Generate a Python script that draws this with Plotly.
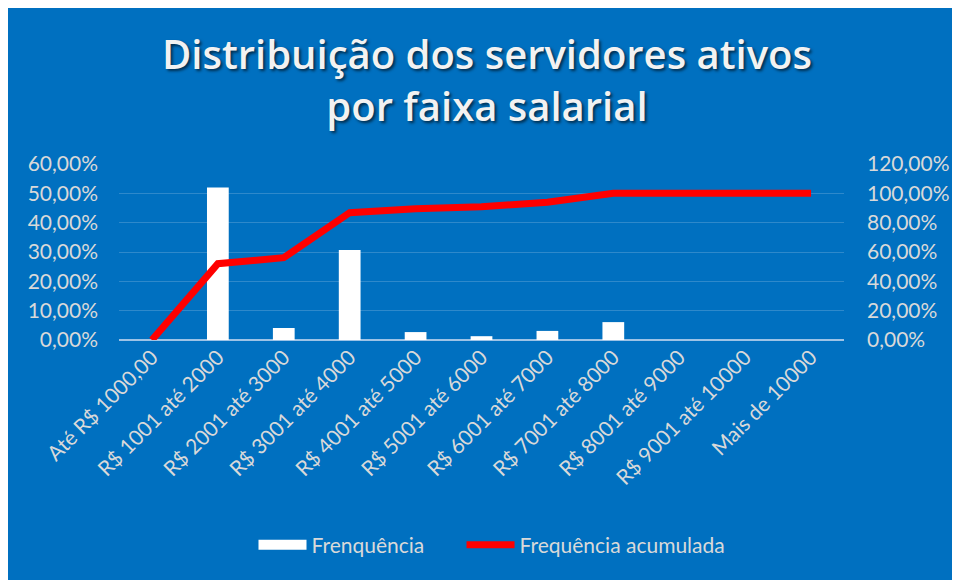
import plotly.graph_objects as go

categorias = ["Até R$ 1000,00", "R$ 1001 até 2000", "R$ 2001 até 3000", "R$ 3001 até 4000",
              "R$ 4001 até 5000", "R$ 5001 até 6000", "R$ 6001 até 7000", "R$ 7001 até 8000",
              "R$ 8001 até 9000", "R$ 9001 até 10000", "Mais de 10000"]
frequencia = [0.0, 0.520, 0.041, 0.307, 0.027, 0.013, 0.031, 0.061, 0.0, 0.0, 0.0]
acumulada = [0.0, 0.520, 0.561, 0.868, 0.895, 0.908, 0.939, 1.0, 1.0, 1.0, 1.0]

BLUE = "#0070C0"
TXT = "#D9D9D9"
FONT = "Lato"
FS = 21

# page body adds an 8px offset; figure is sized to fill the rest of the window
W, H, OFF = 952, 572, 8


def fx(px):
    return (px - OFF) / W


def fy(py):
    return 1 - (py - OFF) / H


fig = go.Figure()
fig.add_trace(go.Bar(x=categorias, y=frequencia, name="Frenquência",
                     marker=dict(color="white", line=dict(width=0)), width=0.33,
                     yaxis="y", showlegend=False))
# legend swatch for the bars (wide white rectangle like the original)
fig.add_trace(go.Scatter(x=[None], y=[None], name="Frenquência" + "\u00a0" * 6, mode="lines",
                         line=dict(color="white", width=13), yaxis="y"))
fig.add_trace(go.Scatter(x=categorias, y=acumulada, name="Frequência acumulada",
                         mode="lines", line=dict(color="#FF0000", width=7),
                         yaxis="y2"))

fig.update_layout(
    width=W, height=H,
    margin=dict(l=0, r=0, t=0, b=0, autoexpand=False),
    paper_bgcolor=BLUE, plot_bgcolor="rgba(0,0,0,0)",
    separators=",.",
    font=dict(family=FONT, color=TXT, size=FS),
    showlegend=True,
    legend=dict(orientation="h", x=fx(492), xanchor="center", y=fy(545), yanchor="middle",
                font=dict(size=FS, color=TXT, family=FONT), bgcolor="rgba(0,0,0,0)",
                itemwidth=48, tracegroupgap=0),
    xaxis=dict(domain=[fx(119), fx(844)], tickangle=-45, showgrid=False,
               showline=False, ticks="", tickfont=dict(size=FS, color=TXT, family=FONT),
               zeroline=False, automargin=False),
    yaxis=dict(domain=[fy(340), fy(164)], range=[0, 0.6], dtick=0.1,
               tickformat=".2%", gridcolor="rgba(255,255,255,0.18)", gridwidth=1,
               zeroline=True, zerolinecolor="#9DC3E6", zerolinewidth=2,
               showline=False, ticks="", ticklabelstandoff=20, automargin=False,
               tickfont=dict(size=FS, color=TXT, family=FONT)),
    yaxis2=dict(overlaying="y", side="right", range=[0, 1.2], dtick=0.2,
                tickformat=".2%", showgrid=False, zeroline=False, showline=False,
                ticks="", ticklabelstandoff=22, automargin=False,
                tickfont=dict(size=FS, color=TXT, family=FONT)),
    annotations=[
        dict(text="Distribuição dos servidores ativos<br>por faixa salarial",
             xref="paper", yref="paper", x=fx(487), y=fy(80),
             xanchor="center", yanchor="middle", showarrow=False,
             font=dict(family="Open Sans", size=40, color="#F2F2F2", weight=600,
                       shadow="2px 2px 3px rgba(0,0,0,0.6)"),
             )
    ],
)

fig.write_html("out.html")
